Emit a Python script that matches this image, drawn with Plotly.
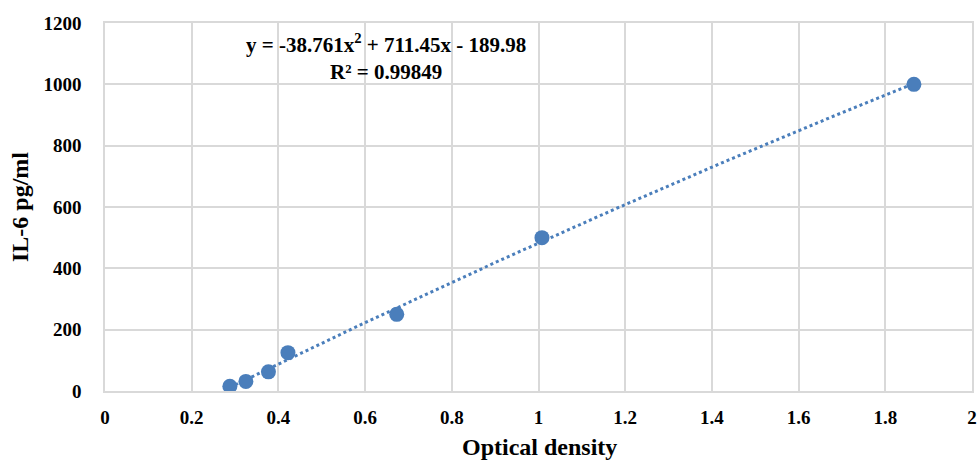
import numpy as np
import plotly.graph_objects as go

optical_density = [0.288, 0.325, 0.377, 0.422, 0.673, 1.008, 1.866]
il6_conc = [15.6, 31.25, 62.5, 125, 250, 500, 1000]
# Trendline coefficients as printed on the chart (a*x^2 + b*x + c)
trend_coeffs = [-38.761, 711.45, -189.98]
equation_text = "<b>y = -38.761x<sup>2</sup> + 711.45x - 189.98</b>"
r2_text = "<b>R² = 0.99849</b>"
x_ticks = [0, 0.2, 0.4, 0.6, 0.8, 1, 1.2, 1.4, 1.6, 1.8, 2]
x_tick_labels = ["0", "0.2", "0.4", "0.6", "0.8", "1", "1.2", "1.4", "1.6", "1.8", "2"]
y_ticks = [0, 200, 400, 600, 800, 1000, 1200]
y_tick_labels = ["0", "200", "400", "600", "800", "1000", "1200"]

xt = np.linspace(min(optical_density), max(optical_density), 200)
yt = np.polyval(trend_coeffs, xt)

color = "#4a7ebb"
font_fam = "Liberation Serif, Times New Roman, serif"

fig = go.Figure()
fig.add_trace(go.Scatter(x=xt, y=yt, mode="lines",
                         line=dict(color=color, width=3, dash="dot"),
                         hoverinfo="skip", showlegend=False))
fig.add_trace(go.Scatter(x=optical_density, y=il6_conc, mode="markers",
                         marker=dict(color=color, size=15),
                         showlegend=False))

fig.add_annotation(x=0.648, y=1133, text=equation_text, showarrow=False,
                   font=dict(family=font_fam, size=21, color="#000"),
                   xref="x", yref="y")
fig.add_annotation(x=0.648, y=1040, text=r2_text, showarrow=False,
                   font=dict(family=font_fam, size=21, color="#000"),
                   xref="x", yref="y")

# axis titles
fig.add_annotation(x=0.5006, y=-0.112, xref="paper", yref="paper",
                   text="<b>Optical density</b>", showarrow=False,
                   xanchor="center", yanchor="top",
                   font=dict(family=font_fam, size=24, color="#000"))
fig.add_annotation(x=-0.098, y=0.5, xref="paper", yref="paper",
                   text="<b>IL-6 pg/ml</b>", showarrow=False, textangle=-90,
                   xanchor="center", yanchor="middle",
                   font=dict(family=font_fam, size=24, color="#000"))

fig.update_layout(
    width=980, height=463,
    margin=dict(l=105, r=8, t=23, b=72),
    plot_bgcolor="white", paper_bgcolor="white",
    font=dict(family=font_fam, color="#000"),
    xaxis=dict(range=[0, 2], tickvals=x_ticks,
               ticktext=["<b>%s</b>" % t for t in x_tick_labels],
               showgrid=True, gridcolor="#d9d9d9",
               gridwidth=1.5, zeroline=False, showline=True, linecolor="#d9d9d9",
               linewidth=1.5, mirror=True, automargin=False,
               tickfont=dict(family=font_fam, size=19, color="#000"),
               ticks="", ticklabelstandoff=8),
    yaxis=dict(range=[0, 1200], tickvals=y_ticks,
               ticktext=["<b>%s</b>" % t for t in y_tick_labels],
               showgrid=True, gridcolor="#d9d9d9",
               gridwidth=1.5, zeroline=False, showline=True, linecolor="#d9d9d9",
               linewidth=1.5, mirror=True, automargin=False,
               tickfont=dict(family=font_fam, size=19, color="#000"),
               ticks="", ticklabelstandoff=18),
)

fig.write_html("out.html", config={"displayModeBar": False},
               post_script="document.body.style.margin='0px';")
